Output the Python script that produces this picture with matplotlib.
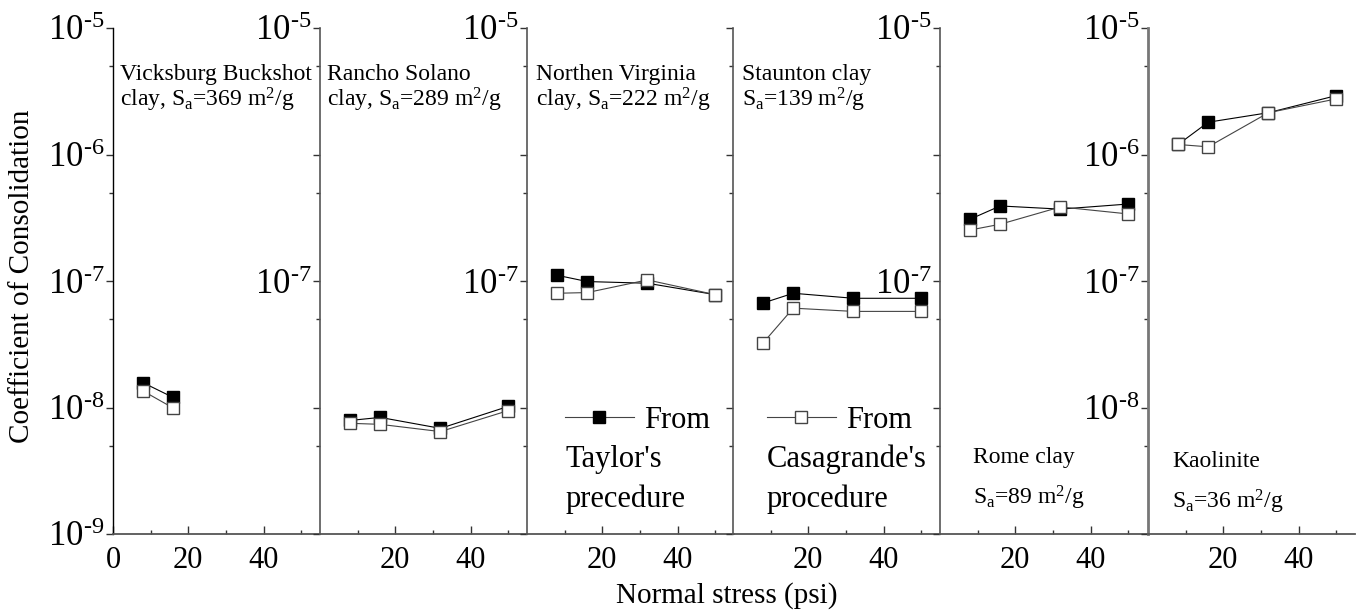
import matplotlib
matplotlib.use('Agg')
import matplotlib.pyplot as plt
from matplotlib.lines import Line2D

plt.rcParams['font.family'] = ['Liberation Serif', 'DejaVu Serif']
plt.rcParams['mathtext.fontset'] = 'custom'
plt.rcParams['mathtext.rm'] = 'Liberation Serif'
plt.rcParams['mathtext.it'] = 'Liberation Serif:italic'

# normal stress (psi)
stress = [8, 16, 32, 50]

# coefficient of consolidation, Taylor (filled) / Casagrande (open)
vicksburg_taylor = [1.57e-8, 1.2e-8]
vicksburg_casa = [1.35e-8, 9.9e-9]
rancho_taylor = [7.9e-9, 8.35e-9, 6.84e-9, 1.02e-8]
rancho_casa = [7.5e-9, 7.36e-9, 6.45e-9, 9.45e-9]
virginia_taylor = [1.11e-7, 9.9e-8, 9.6e-8, 7.8e-8]
virginia_casa = [8.0e-8, 8.1e-8, 1.02e-7, 7.8e-8]
staunton_taylor = [6.7e-8, 8.0e-8, 7.3e-8, 7.3e-8]
staunton_casa = [3.24e-8, 6.1e-8, 5.75e-8, 5.75e-8]
rome_taylor = [3.08e-7, 3.92e-7, 3.7e-7, 4.06e-7]
rome_casa = [2.53e-7, 2.81e-7, 3.85e-7, 3.39e-7]
kaolinite_taylor = [1.2e-6, 1.8e-6, 2.14e-6, 2.92e-6]
kaolinite_casa = [1.2e-6, 1.15e-6, 2.14e-6, 2.75e-6]

taylor = [vicksburg_taylor, rancho_taylor, virginia_taylor,
          staunton_taylor, rome_taylor, kaolinite_taylor]
casa = [vicksburg_casa, rancho_casa, virginia_casa,
        staunton_casa, rome_casa, kaolinite_casa]

# exponents labelled on the left side of each panel
ylabel_exps = [[-5, -6, -7, -8, -9], [-5, -7], [-5, -7], [], [-5, -7], [-5, -6, -7, -8]]

names = [
    ["Vicksburg Buckshot", r"clay, S$_\mathregular{a}$=369 m$^\mathregular{2}$/g"],
    ["Rancho Solano", r"clay, S$_\mathregular{a}$=289 m$^\mathregular{2}$/g"],
    ["Northen Virginia", r"clay, S$_\mathregular{a}$=222 m$^\mathregular{2}$/g"],
    ["Staunton clay", r"S$_\mathregular{a}$=139 m$^\mathregular{2}$/g"],
    ["Rome clay", r"S$_\mathregular{a}$=89 m$^\mathregular{2}$/g"],
    ["Kaolinite", r"S$_\mathregular{a}$=36 m$^\mathregular{2}$/g"],
]
name_pos = [(0.034, 0.897, 0.844), (0.034, 0.897, 0.844), (0.043, 0.897, 0.844),
            (0.043, 0.897, 0.844), (0.16, 0.140, 0.058), (0.116, 0.132, 0.050)]

fig = plt.figure(figsize=(13.58, 6.16), dpi=100)
W, H = 1358.0, 616.0
lefts = [113, 320, 527, 733, 940, 1148]
pw = 207
bottom, top = 534, 28

axes = []
for i in range(6):
    ax = fig.add_axes([lefts[i] / W, 1 - bottom / H, pw / W, (bottom - top) / H])
    axes.append(ax)
    n = len(taylor[i])
    ax.plot(stress[:n], taylor[i], '-', color='black', lw=0.8,
            marker='s', ms=8, mfc='black', mec='black', zorder=3)
    ax.plot(stress[:n], casa[i], '-', color='#444444', lw=0.8,
            marker='s', ms=8, mfc='white', mec='#444444', mew=1.0, zorder=4)
    ax.set_yscale('log')
    ax.set_ylim(1e-9, 1e-5)
    ax.set_xlim(0, 55)
    for s in ['top', 'right']:
        ax.spines[s].set_visible(False)
    ax.spines['bottom'].set_color('#555555')
    ax.spines['bottom'].set_linewidth(1.3)
    if i == 0:
        ax.spines['left'].set_color('black')
        ax.spines['left'].set_linewidth(1.0)
    elif i == 5:
        ax.spines['left'].set_color('#777777')
        ax.spines['left'].set_linewidth(2.0)
    else:
        ax.spines['left'].set_color('#555555')
        ax.spines['left'].set_linewidth(1.2)

    major = [1e-9, 1e-8, 1e-7, 1e-6, 1e-5]
    labels = ['$\\mathregular{10^{\u2010%d}}$' % (-e) if e in ylabel_exps[i] else ''
              for e in [-9, -8, -7, -6, -5]]
    ax.set_yticks(major)
    ax.set_yticklabels(labels)
    ax.set_yticks([5e-9, 5e-8, 5e-7, 5e-6], minor=True)
    ax.set_yticklabels([], minor=True)
    ax.tick_params(axis='y', which='major', direction='out', length=5,
                   width=1, labelsize=25, pad=1, color='#333333')
    ax.tick_params(axis='y', which='minor', direction='out', length=3,
                   width=1, color='#333333')

    if i == 0:
        ax.set_xticks([0, 20, 40])
    else:
        ax.set_xticks([20, 40])
    ax.set_xticks([10, 30, 50], minor=True)
    ax.tick_params(axis='x', which='major', direction='in', length=6,
                   width=1, labelsize=22, pad=9, color='#333333')
    ax.tick_params(axis='x', which='minor', direction='in', length=3,
                   width=1, color='#333333')
    ax.patch.set_alpha(0)

    x0, y1, y2 = name_pos[i]
    ax.text(x0, y1, names[i][0], transform=ax.transAxes, fontsize=17,
            va='baseline', ha='left')
    ax.text(x0, y2, names[i][1], transform=ax.transAxes, fontsize=17,
            va='baseline', ha='left')

# legend entries in panels 3 and 4
h_taylor = Line2D([], [], color='#444444', lw=0.8, marker='s', ms=8,
                  mfc='black', mec='black')
h_casa = Line2D([], [], color='#444444', lw=0.8, marker='s', ms=8,
                mfc='white', mec='#444444')
for ax, h, x0, lines in [(axes[2], h_taylor, 0.184, ["Taylor's", "precedure"]),
                         (axes[3], h_casa, 0.164, ["Casagrande's", "procedure"])]:
    leg = ax.legend([h], ['From'], loc='center left', bbox_to_anchor=(x0, 0.224),
                    frameon=False, fontsize=22, handlelength=2.25,
                    handletextpad=0.35, borderpad=0, borderaxespad=0)
    ax.text(x0, 0.133, lines[0], transform=ax.transAxes, fontsize=22,
            va='baseline', ha='left')
    ax.text(x0, 0.054, lines[1], transform=ax.transAxes, fontsize=22,
            va='baseline', ha='left')

fig.text(22 / W, 1 - 276 / H, 'Coefficient of Consolidation', rotation=90,
         fontsize=21, ha='center', va='center')
fig.text(727 / W, 1 - 596 / H, 'Normal stress (psi)', fontsize=21,
         ha='center', va='center')

fig.savefig('out.png', dpi=100)
